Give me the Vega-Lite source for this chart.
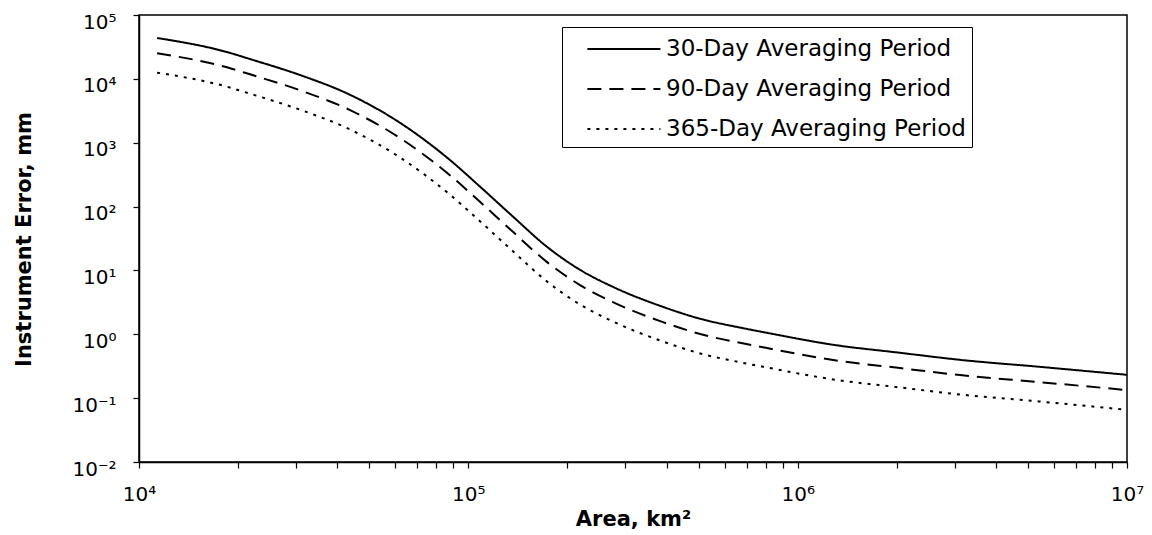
{
  "$schema": "https://vega.github.io/schema/vega-lite/v6.json",
  "width": 988,
  "height": 447,
  "autosize": {"type": "none"},
  "padding": {"left": 139, "top": 15, "right": 25, "bottom": 73},
  "background": "white",
  "config": {
    "font": "DejaVu Sans",
    "view": {"stroke": "black", "strokeWidth": 1.5},
    "axis": {"grid": false, "domainColor": "black", "domainWidth": 1.5, "tickColor": "black", "tickWidth": 1.2, "tickSize": 6, "labelColor": "black", "titleColor": "black", "labelFont": "DejaVu Sans", "titleFont": "DejaVu Sans", "labelFontSize": 20, "titleFontSize": 21, "titleFontWeight": "bold"}
  },
  "data": {"values": [
    {"area": 11350, "err": 43650, "series": "30-Day Averaging Period"},
    {"area": 18490, "err": 26300, "series": "30-Day Averaging Period"},
    {"area": 21730, "err": 20420, "series": "30-Day Averaging Period"},
    {"area": 30830, "err": 11480, "series": "30-Day Averaging Period"},
    {"area": 43750, "err": 5623, "series": "30-Day Averaging Period"},
    {"area": 62090, "err": 2042, "series": "30-Day Averaging Period"},
    {"area": 87900, "err": 537, "series": "30-Day Averaging Period"},
    {"area": 108650, "err": 204, "series": "30-Day Averaging Period"},
    {"area": 136800, "err": 69.2, "series": "30-Day Averaging Period"},
    {"area": 173400, "err": 23.4, "series": "30-Day Averaging Period"},
    {"area": 218300, "err": 10.23, "series": "30-Day Averaging Period"},
    {"area": 274800, "err": 5.53, "series": "30-Day Averaging Period"},
    {"area": 389900, "err": 2.69, "series": "30-Day Averaging Period"},
    {"area": 505800, "err": 1.75, "series": "30-Day Averaging Period"},
    {"area": 668300, "err": 1.274, "series": "30-Day Averaging Period"},
    {"area": 807200, "err": 1.054, "series": "30-Day Averaging Period"},
    {"area": 1282000, "err": 0.685, "series": "30-Day Averaging Period"},
    {"area": 2046000, "err": 0.513, "series": "30-Day Averaging Period"},
    {"area": 3112000, "err": 0.398, "series": "30-Day Averaging Period"},
    {"area": 5445000, "err": 0.309, "series": "30-Day Averaging Period"},
    {"area": 10000000, "err": 0.232, "series": "30-Day Averaging Period"},
    {"area": 11350, "err": 25170, "series": "90-Day Averaging Period"},
    {"area": 18490, "err": 15170, "series": "90-Day Averaging Period"},
    {"area": 21730, "err": 11776, "series": "90-Day Averaging Period"},
    {"area": 30830, "err": 6620, "series": "90-Day Averaging Period"},
    {"area": 43750, "err": 3243, "series": "90-Day Averaging Period"},
    {"area": 62090, "err": 1178, "series": "90-Day Averaging Period"},
    {"area": 87900, "err": 309.7, "series": "90-Day Averaging Period"},
    {"area": 108650, "err": 117.6, "series": "90-Day Averaging Period"},
    {"area": 136800, "err": 39.9, "series": "90-Day Averaging Period"},
    {"area": 173400, "err": 13.5, "series": "90-Day Averaging Period"},
    {"area": 218300, "err": 5.9, "series": "90-Day Averaging Period"},
    {"area": 274800, "err": 3.19, "series": "90-Day Averaging Period"},
    {"area": 389900, "err": 1.551, "series": "90-Day Averaging Period"},
    {"area": 505800, "err": 1.009, "series": "90-Day Averaging Period"},
    {"area": 668300, "err": 0.735, "series": "90-Day Averaging Period"},
    {"area": 807200, "err": 0.608, "series": "90-Day Averaging Period"},
    {"area": 1282000, "err": 0.395, "series": "90-Day Averaging Period"},
    {"area": 2046000, "err": 0.296, "series": "90-Day Averaging Period"},
    {"area": 3112000, "err": 0.2295, "series": "90-Day Averaging Period"},
    {"area": 5445000, "err": 0.178, "series": "90-Day Averaging Period"},
    {"area": 10000000, "err": 0.1338, "series": "90-Day Averaging Period"},
    {"area": 11350, "err": 12510, "series": "365-Day Averaging Period"},
    {"area": 18490, "err": 7536, "series": "365-Day Averaging Period"},
    {"area": 21730, "err": 5851, "series": "365-Day Averaging Period"},
    {"area": 30830, "err": 3289, "series": "365-Day Averaging Period"},
    {"area": 43750, "err": 1611, "series": "365-Day Averaging Period"},
    {"area": 62090, "err": 585, "series": "365-Day Averaging Period"},
    {"area": 87900, "err": 153.9, "series": "365-Day Averaging Period"},
    {"area": 108650, "err": 58.5, "series": "365-Day Averaging Period"},
    {"area": 136800, "err": 19.83, "series": "365-Day Averaging Period"},
    {"area": 173400, "err": 6.7, "series": "365-Day Averaging Period"},
    {"area": 218300, "err": 2.93, "series": "365-Day Averaging Period"},
    {"area": 274800, "err": 1.585, "series": "365-Day Averaging Period"},
    {"area": 389900, "err": 0.771, "series": "365-Day Averaging Period"},
    {"area": 505800, "err": 0.501, "series": "365-Day Averaging Period"},
    {"area": 668300, "err": 0.365, "series": "365-Day Averaging Period"},
    {"area": 807200, "err": 0.302, "series": "365-Day Averaging Period"},
    {"area": 1282000, "err": 0.196, "series": "365-Day Averaging Period"},
    {"area": 2046000, "err": 0.147, "series": "365-Day Averaging Period"},
    {"area": 3112000, "err": 0.114, "series": "365-Day Averaging Period"},
    {"area": 5445000, "err": 0.0885, "series": "365-Day Averaging Period"},
    {"area": 9600000, "err": 0.067, "series": "365-Day Averaging Period"}
  ]},
  "mark": {"type": "line", "color": "black", "strokeWidth": 2, "interpolate": "monotone"},
  "encoding": {
    "x": {
      "field": "area", "type": "quantitative",
      "scale": {"type": "log", "domain": [10000, 10000000], "nice": false},
      "axis": {
        "title": "Area, km²",
        "values": [10000, 20000, 30000, 40000, 50000, 60000, 70000, 80000, 90000, 100000, 200000, 300000, 400000, 500000, 600000, 700000, 800000, 900000, 1000000, 2000000, 3000000, 4000000, 5000000, 6000000, 7000000, 8000000, 9000000, 10000000],
        "labelExpr": "abs(log(datum.value)/LN10 - round(log(datum.value)/LN10)) < 0.001 ? '10' + ['⁻²','⁻¹','⁰','¹','²','³','⁴','⁵','⁶','⁷'][round(log(datum.value)/LN10)+2] : ''",
        "labelFlush": false,
        "labelOverlap": false,
        "labelBaseline": "alphabetic",
        "labelPadding": 32,
        "titleY": 63,
        "titleBaseline": "alphabetic"
      }
    },
    "y": {
      "field": "err", "type": "quantitative",
      "scale": {"type": "log", "domain": [0.01, 100000], "nice": false},
      "axis": {
        "title": "Instrument Error, mm",
        "values": [0.01, 0.1, 1, 10, 100, 1000, 10000, 100000],
        "labelExpr": "'10' + ['⁻²','⁻¹','⁰','¹','²','³','⁴','⁵','⁶','⁷'][round(log(datum.value)/LN10)+2]",
        "labelBaseline": "alphabetic",
        "labelOffset": 13,
        "labelPadding": 17,
        "labelOverlap": false,
        "titleX": -115,
        "titleY": 224,
        "titleBaseline": "middle"
      }
    },
    "strokeDash": {
      "field": "series", "type": "nominal",
      "scale": {"domain": ["30-Day Averaging Period", "90-Day Averaging Period", "365-Day Averaging Period"], "range": [[1, 0], [14, 8], [3, 6]]},
      "legend": {
        "title": null,
        "orient": "none",
        "legendX": 423,
        "legendY": 12,
        "symbolType": "M0.233,0H5.233",
        "symbolSize": 853,
        "symbolStrokeWidth": 2,
        "symbolStrokeColor": "black",
        "symbolFillColor": "transparent",
        "labelFontSize": 23,
        "labelFont": "DejaVu Sans",
        "labelColor": "black",
        "labelOffset": 66,
        "labelLimit": 500,
        "labelExpr": "datum.label + '\u00a0\u00a0\u00a0\u00a0\u00a0\u00a0\u00a0\u00a0\u00a0'",
        "rowPadding": 12,
        "padding": 6,
        "strokeColor": "black",
        "fillColor": "white"
      }
    }
  }
}
